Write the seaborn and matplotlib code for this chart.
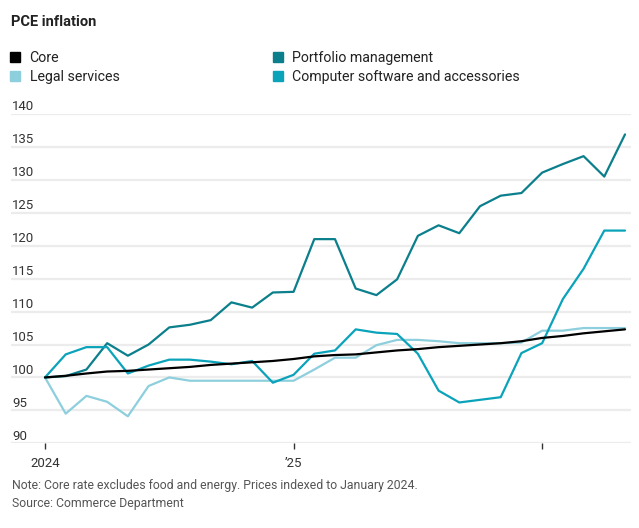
import numpy as np
import pandas as pd
import matplotlib
matplotlib.use("Agg")
import matplotlib.pyplot as plt
import matplotlib.transforms as mtransforms
from matplotlib.lines import Line2D
import seaborn as sns

months = pd.date_range("2024-01-01", periods=29, freq="MS")
core = [100.0, 100.25, 100.6, 100.9, 101.0, 101.2, 101.4, 101.6, 101.9, 102.1,
        102.3, 102.5, 102.8, 103.2, 103.4, 103.5, 103.8, 104.1, 104.3, 104.6,
        104.8, 105.0, 105.2, 105.5, 106.0, 106.3, 106.7, 107.0, 107.3]
legal = [100.0, 94.5, 97.2, 96.3, 94.1, 98.7, 100.0, 99.5, 99.5, 99.5,
         99.5, 99.5, 99.5, 101.2, 103.0, 103.0, 104.9, 105.7, 105.7, 105.5,
         105.2, 105.2, 105.2, 105.3, 107.1, 107.1, 107.5, 107.5, 107.5]
portfolio = [100.0, 100.2, 101.2, 105.2, 103.3, 105.0, 107.6, 108.0, 108.7, 111.4,
             110.6, 112.9, 113.0, 121.0, 121.0, 113.5, 112.5, 114.9, 121.5, 123.1,
             121.9, 126.0, 127.6, 128.0, 131.1, 132.4, 133.6, 130.5, 136.9]
software = [100.0, 103.5, 104.6, 104.6, 100.6, 101.8, 102.7, 102.7, 102.4, 102.0,
            102.5, 99.2, 100.4, 103.6, 104.1, 107.3, 106.8, 106.6, 103.6, 98.0,
            96.2, 96.6, 97.0, 103.7, 105.2, 111.9, 116.5, 122.3, 122.3]

series_names = ["Core", "Legal services", "Portfolio management",
                "Computer software and accessories"]
colors = ["#000000", "#8dcfdc", "#0b7f8c", "#0aa3ba"]
yticks = [90, 95, 100, 105, 110, 115, 120, 125, 130, 135, 140]
xtick_labels = ["2024", "\u201925", ""]
xtick_dates = ["2024-01-01", "2025-01-01", "2026-01-01"]

title = "PCE inflation"
note = "Note: Core rate excludes food and energy. Prices indexed to January 2024."
source = "Source: Commerce Department"

df = pd.DataFrame({
    "month": np.tile(np.arange(len(months)), 4),
    "value": core + legal + portfolio + software,
    "series": np.repeat(series_names, len(months)),
})
dates = list(months)

sns.set_theme(style="white")
plt.rcParams["font.family"] = ["Roboto", "DejaVu Sans"]

W, H = 639, 528
fig = plt.figure(figsize=(W / 100, H / 100), dpi=100)
ax_left, ax_right, ax_top, ax_bot = 11, 631, 114, 443.3
ax = fig.add_axes([ax_left / W, 1 - ax_bot / H, (ax_right - ax_left) / W, (ax_bot - ax_top) / H])

# gridlines
for v in yticks:
    ax.axhline(v, color="#ececec", lw=1.6, zorder=0)

# draw order: legal, portfolio, software, core on top
palette = dict(zip(series_names, colors))
for name in ["Legal services", "Portfolio management", "Computer software and accessories", "Core"]:
    sns.lineplot(data=df[df.series == name], x="month", y="value", color=palette[name],
                 lw=1.6, ax=ax, legend=False, zorder=3)

px_per_month = (625 - 45) / 28
ax.set_xlim(-(45 - ax_left) / px_per_month, 28 + (ax_right - 625) / px_per_month)
ax.set_ylim(90, 140)
for s in ax.spines.values():
    s.set_visible(False)
ax.set_xlabel("")
ax.set_ylabel("")
ax.set_yticks([])

# x ticks
xt_pos = [(pd.Timestamp(d).year - 2024) * 12 + pd.Timestamp(d).month - 1 for d in xtick_dates]
ax.set_xticks(xt_pos)
ax.set_xticklabels(xtick_labels)
ax.tick_params(axis="x", length=4, width=1, color="#333333", pad=6,
               labelsize=9.5, labelcolor="#333333", bottom=True)

# y tick labels (left aligned, above gridlines)
trans = mtransforms.blended_transform_factory(ax.transAxes, ax.transData)
for v in yticks:
    ax.text(0.0015, v, str(v), transform=trans + mtransforms.ScaledTranslation(0, 0.5 / 100, fig.dpi_scale_trans),
            ha="left", va="bottom", fontsize=9.5, color="#333333")

# title
fig.text(11 / W, 1 - 22 / H, title, ha="left", va="center", fontsize=10.5, fontweight="bold", color="#222222")

# legend
handles = [Line2D([], [], marker="s", linestyle="none", markersize=7.5, color=c) for c in colors]
leg = fig.legend(handles, series_names, ncol=2, loc="upper left",
                 bbox_to_anchor=(4 / W, 1 - 45 / H), frameon=False,
                 fontsize=10.2, handlelength=0.8, handletextpad=0.6,
                 columnspacing=10.8, labelspacing=0.35, borderaxespad=0)
for t in leg.get_texts():
    t.set_color("#222222")

# footer
fig.text(12 / W, 1 - 486 / H, note, ha="left", va="center", fontsize=8.8, color="#555555")
fig.text(12 / W, 1 - 504 / H, source, ha="left", va="center", fontsize=8.8, color="#555555")

fig.savefig("out.png", dpi=100)
